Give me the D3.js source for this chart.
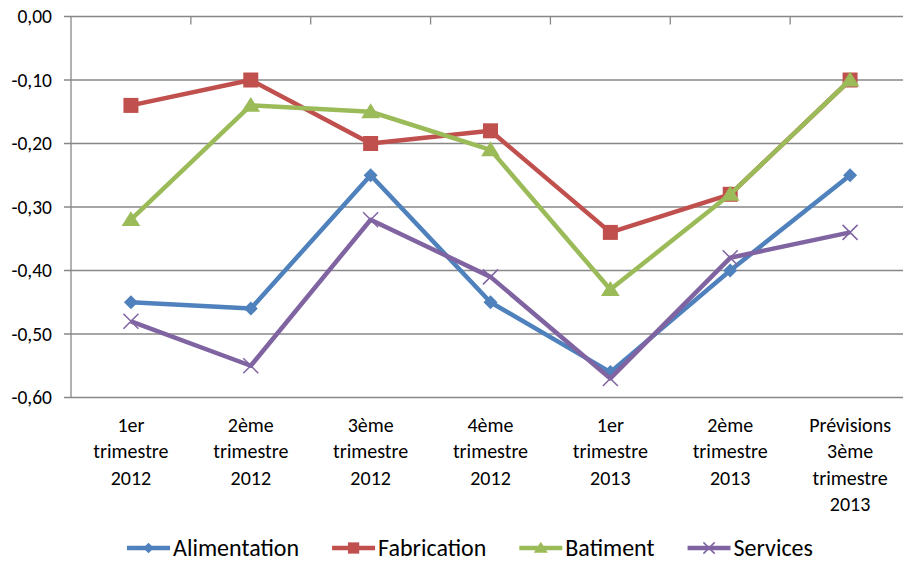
<!DOCTYPE html>
<html>
<head>
<meta charset="utf-8">
<script src="https://cdn.jsdelivr.net/npm/d3@7"></script>
<style>
  body { margin: 0; background: #fff; }
  svg text { font-family: Carlito, Lato, "Open Sans", sans-serif; fill: #000; }
</style>
</head>
<body>
<svg id="chart" width="903" height="561"></svg>
<script>
const categories = [
  ["1er", "trimestre", "2012"],
  ["2ème", "trimestre", "2012"],
  ["3ème", "trimestre", "2012"],
  ["4ème", "trimestre", "2012"],
  ["1er", "trimestre", "2013"],
  ["2ème", "trimestre", "2013"],
  ["Prévisions", "3ème", "trimestre", "2013"]
];
const seriesNames = ["Alimentation", "Fabrication", "Batiment", "Services"];
const alimentation = [-0.45, -0.46, -0.25, -0.45, -0.56, -0.40, -0.25];
const fabrication = [-0.14, -0.10, -0.20, -0.18, -0.34, -0.28, -0.10];
const batiment = [-0.32, -0.14, -0.15, -0.21, -0.43, -0.28, -0.10];
const services = [-0.48, -0.55, -0.32, -0.41, -0.57, -0.38, -0.34];
const yTicks = [0, -0.1, -0.2, -0.3, -0.4, -0.5, -0.6];

const colors = ["#4F81BD", "#C0504D", "#9BBB59", "#8064A2"];
const markers = ["diamond", "square", "triangle", "x"];
const allSeries = [alimentation, fabrication, batiment, services];

const svg = d3.select("#chart");
const pLeft = 71, pRight = 910, pTop = 16.5, pBottom = 397.5;

const x = d3.scaleBand().domain(d3.range(categories.length)).range([pLeft, pRight]);
const y = d3.scaleLinear().domain([-0.6, 0]).range([pBottom, pTop]);
const fmt = v => d3.format(".2f")(v).replace(".", ",").replace("−", "-");

// gridlines
svg.append("g")
  .selectAll("line")
  .data(yTicks)
  .join("line")
  .attr("x1", pLeft - 7).attr("x2", pRight)
  .attr("y1", d => y(d)).attr("y2", d => y(d))
  .attr("stroke", "#878787").attr("stroke-width", 1.3);

// y axis line + labels
svg.append("line")
  .attr("x1", pLeft).attr("x2", pLeft).attr("y1", pTop).attr("y2", pBottom)
  .attr("stroke", "#878787").attr("stroke-width", 1.3);

svg.append("g")
  .selectAll("text")
  .data(yTicks)
  .join("text")
  .attr("x", 52)
  .attr("y", d => y(d))
  .attr("dy", "0.35em")
  .attr("text-anchor", "end")
  .style("font-size", "19.5px")
  .text(d => fmt(d));

// category tick marks on the top axis (value 0)
svg.append("g")
  .selectAll("line")
  .data(d3.range(1, categories.length + 1))
  .join("line")
  .attr("x1", i => pLeft + i * x.step()).attr("x2", i => pLeft + i * x.step())
  .attr("y1", pTop).attr("y2", pTop + 8)
  .attr("stroke", "#878787").attr("stroke-width", 1.3);

// category labels
const cx = i => x(i) + x.bandwidth() / 2;
const lab = svg.append("g")
  .selectAll("text")
  .data(categories)
  .join("text")
  .attr("text-anchor", "middle")
  .style("font-size", "20px");
lab.selectAll("tspan")
  .data((d, i) => d.map(t => ({ t, i })))
  .join("tspan")
  .attr("x", d => cx(d.i))
  .attr("y", (d, j) => 432 + j * 26.3)
  .text(d => d.t);

function drawMarker(g, type, color, s) {
  if (type === "diamond") {
    g.append("path").attr("d", `M0,${-s}L${s},0L0,${s}L${-s},0Z`).attr("fill", color);
  } else if (type === "square") {
    g.append("rect").attr("x", -s).attr("y", -s).attr("width", 2 * s).attr("height", 2 * s).attr("fill", color);
  } else if (type === "triangle") {
    g.append("path").attr("d", `M0,${-s}L${s * 1.1},${s * 0.75}L${-s * 1.1},${s * 0.75}Z`).attr("fill", color);
  } else {
    g.append("path").attr("d", `M${-s},${-s}L${s},${s}M${-s},${s}L${s},${-s}`)
      .attr("stroke", color).attr("stroke-width", 1.5).attr("fill", "none");
  }
}
const markerSize = [7, 7.5, 8.5, 7.5];

const line = d3.line().x((d, i) => cx(i)).y(d => y(d));

allSeries.forEach((vals, k) => {
  const g = svg.append("g");
  g.append("path")
    .datum(vals)
    .attr("d", line)
    .attr("fill", "none")
    .attr("stroke", colors[k])
    .attr("stroke-width", 4.5)
    .attr("stroke-linejoin", "round");
  vals.forEach((v, i) => {
    const m = g.append("g").attr("transform", `translate(${cx(i)},${y(v)})`);
    drawMarker(m, markers[k], colors[k], markerSize[k]);
  });
});

// legend
const legend = svg.append("g");
let lx = 127;
const ly = 548;
seriesNames.forEach((name, k) => {
  const item = legend.append("g");
  item.append("line")
    .attr("x1", lx).attr("x2", lx + 43).attr("y1", ly).attr("y2", ly)
    .attr("stroke", colors[k]).attr("stroke-width", 4.5);
  const m = item.append("g").attr("transform", `translate(${lx + 21.5},${ly})`);
  drawMarker(m, markers[k], colors[k], markerSize[k] * 0.75);
  const t = item.append("text")
    .attr("x", lx + 46).attr("y", ly).attr("dy", "0.35em")
    .style("font-size", "24px")
    .text(name);
  lx += 46 + t.node().getComputedTextLength() + 33;
});
</script>
</body>
</html>
